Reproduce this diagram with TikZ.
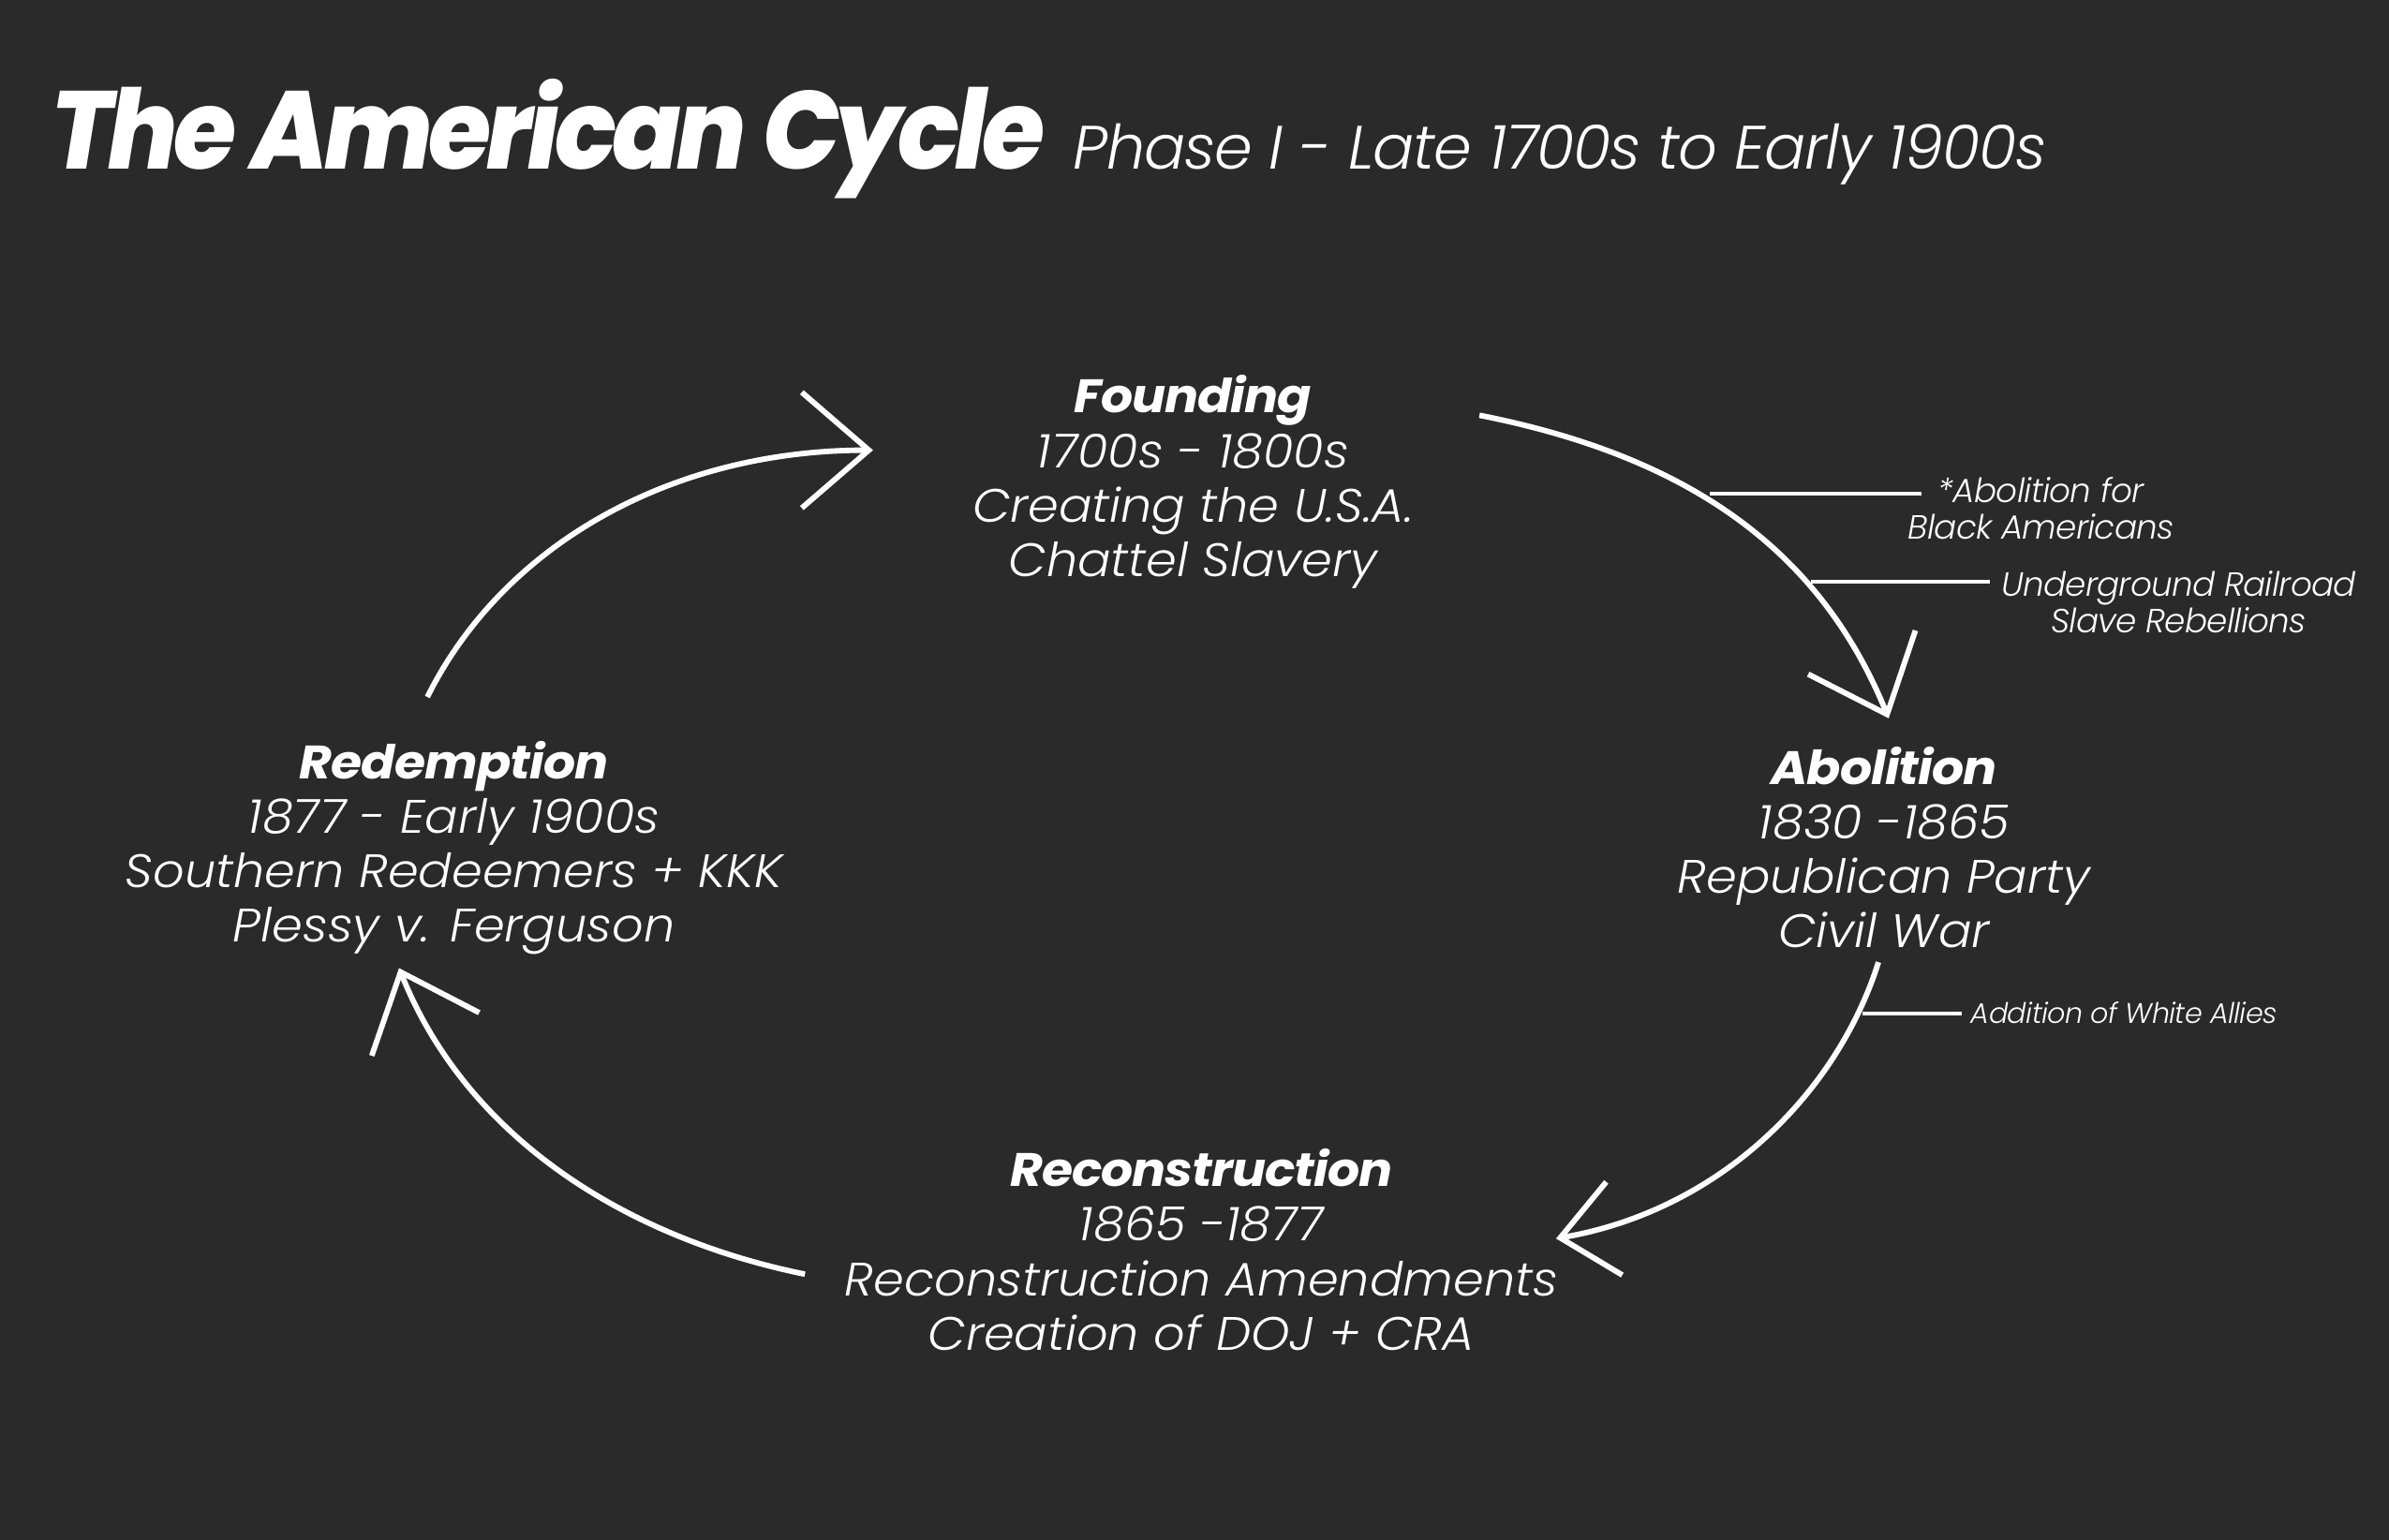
\documentclass[tikz,border=0pt]{standalone}
\usepackage{fontspec}
\setmainfont{Poppins}
\newfontfamily\titlefont{Poppins ExtraBold Italic}[LetterSpace=-4,FakeStretch=0.92]
\newfontfamily\headfont{Poppins Bold Italic}[LetterSpace=-2,FakeStretch=1.07]
\newfontfamily\lightfont{Poppins Light Italic}[FakeStretch=1.05]
\newfontfamily\notefont{Poppins Light Italic}[LetterSpace=-2]
\usetikzlibrary{positioning,arrows.meta,calc}
\definecolor{board}{RGB}{42,42,42}

\begin{document}
\begin{tikzpicture}[x=0.5pt,y=-0.5pt]
    \tikzstyle{every node}=[text=white,inner sep=0]
    \tikzstyle{phase}=[align=center,anchor=north,font=\lightfont\fontsize{15.4}{17.9}\selectfont]
    \tikzstyle{note}=[align=center,anchor=north,font=\notefont\fontsize{11}{12}\selectfont]
    \tikzstyle{cycle}=[draw=white,line width=1.8pt,-{Straight Barb[length=22pt,width=38pt]}]
    \tikzstyle{tick}=[draw=white,line width=1.2pt]

    \useasboundingbox (0,0) rectangle (1568,1010.3);
    \fill[board] (-4,-4) rectangle (1572,1014);

    \node[anchor=base west,font=\titlefont\fontsize{36.3}{37}\selectfont] (title) at (33,110.7) {The American Cycle};
    \node[anchor=base west,font=\notefont\fontsize{20.1}{21}\selectfont] (subtitle) at (704,110.7) {Phase I - Late 1700s to Early 1900s};

    \node[phase] (founding) at (783,246) {{\headfont Founding}\\1700s - 1800s\\Creating the U.S.A.\\Chattel Slavery};
    \node[phase] (abolition) at (1236.5,489.6) {{\headfont Abolition}\\1830 -1865\\Republican Party\\Civil War};
    \node[phase] (reconstruction) at (788.5,753.8) {{\headfont Reconstruction}\\1865 -1877\\Reconstruction Amendments\\Creation of DOJ + CRA};
    \node[phase] (redemption) at (298,486) {{\headfont Redemption}\\1877 - Early 1900s\\Southern Redeemers + KKK\\Plessy v. Ferguson};

    \coordinate (redout) at (280.5,457.5);
    \coordinate (foundin) at (573,295.5);
    \coordinate (foundout) at (971,272.6);
    \coordinate (abolin) at (1239.6,471.5);
    \coordinate (abolout) at (1232.9,631.6);
    \coordinate (recin) at (1021.3,813);
    \coordinate (recout) at (528.3,836.4);
    \coordinate (redin) at (261.9,635.5);

    \draw[cycle] (redout) .. controls (330,358) and (440,295.5) .. (foundin);
    \draw[cycle] (foundout) .. controls (1110,300) and (1195,362) .. (abolin);
    \draw[cycle,-{Straight Barb[length=18pt,width=31pt]}] (abolout) .. controls (1205.9,717.1) and (1129.7,794.3) .. (recin);
    \draw[cycle] (recout) .. controls (410.7,812.4) and (306.5,746.9) .. (redin);

    \coordinate (t1a) at (1122,324);
    \coordinate (t1b) at (1261,324);
    \coordinate (t2a) at (1188.6,381.7);
    \coordinate (t2b) at (1306,381.7);
    \coordinate (t3a) at (1222.5,665.2);
    \coordinate (t3b) at (1287.7,665.2);

    \draw[tick] (t1a) -- (t1b);
    \draw[tick] (t2a) -- (t2b);
    \draw[tick] (t3a) -- (t3b);

    \node[note] (blacknote) at (1339.6,312.8) {*Abolition for\\Black Americans};
    \node[note] (railnote) at (1430,374.3) {Underground Railroad\\Slave Rebellions};
    \node[note,anchor=west,font=\notefont\fontsize{9.3}{10}\selectfont] (alliesnote) at (1293.3,665) {Addition of White Allies};
\end{tikzpicture}
\end{document}
